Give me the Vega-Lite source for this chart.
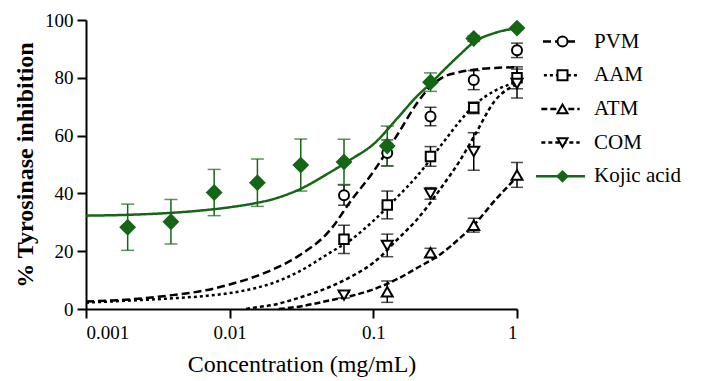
{
  "$schema": "https://vega.github.io/schema/vega-lite/v6.json",
  "width": 431,
  "height": 289,
  "autosize": {"type": "none"},
  "padding": {"left": 86, "top": 20, "right": 191, "bottom": 72},
  "background": "white",
  "config": {
    "view": {"stroke": null},
    "font": "Liberation Serif",
    "axis": {
      "grid": false,
      "domainColor": "black",
      "domainWidth": 2,
      "tickColor": "black",
      "tickWidth": 2,
      "tickSize": 9,
      "labelColor": "black",
      "labelFont": "Liberation Serif",
      "labelFontSize": 19,
      "titleColor": "black",
      "titleFont": "Liberation Serif"
    }
  },
  "datasets": {
    "curves": [
      {"curve": "PVM", "x": 0.001, "y": 2.6}, {"curve": "PVM", "x": 0.002, "y": 3.3}, {"curve": "PVM", "x": 0.004, "y": 4.8},
      {"curve": "PVM", "x": 0.007, "y": 6.6}, {"curve": "PVM", "x": 0.01, "y": 8.5}, {"curve": "PVM", "x": 0.015, "y": 11.2},
      {"curve": "PVM", "x": 0.02, "y": 13.7}, {"curve": "PVM", "x": 0.03, "y": 18.3}, {"curve": "PVM", "x": 0.05, "y": 27.3},
      {"curve": "PVM", "x": 0.07, "y": 37.5}, {"curve": "PVM", "x": 0.1, "y": 47.5}, {"curve": "PVM", "x": 0.15, "y": 61},
      {"curve": "PVM", "x": 0.2, "y": 71}, {"curve": "PVM", "x": 0.25, "y": 77}, {"curve": "PVM", "x": 0.3, "y": 80},
      {"curve": "PVM", "x": 0.4, "y": 82}, {"curve": "PVM", "x": 0.5, "y": 82.8}, {"curve": "PVM", "x": 0.7, "y": 83.4},
      {"curve": "PVM", "x": 1, "y": 83.7},
      {"curve": "AAM", "x": 0.001, "y": 2.2}, {"curve": "AAM", "x": 0.002, "y": 2.9}, {"curve": "AAM", "x": 0.004, "y": 3.7},
      {"curve": "AAM", "x": 0.007, "y": 4.6}, {"curve": "AAM", "x": 0.01, "y": 5.5}, {"curve": "AAM", "x": 0.015, "y": 7.2},
      {"curve": "AAM", "x": 0.02, "y": 9}, {"curve": "AAM", "x": 0.03, "y": 12.8}, {"curve": "AAM", "x": 0.05, "y": 19.5},
      {"curve": "AAM", "x": 0.07, "y": 24}, {"curve": "AAM", "x": 0.1, "y": 30.5}, {"curve": "AAM", "x": 0.15, "y": 39.2},
      {"curve": "AAM", "x": 0.2, "y": 45.8}, {"curve": "AAM", "x": 0.3, "y": 57}, {"curve": "AAM", "x": 0.4, "y": 65},
      {"curve": "AAM", "x": 0.5, "y": 70.3}, {"curve": "AAM", "x": 0.7, "y": 75.5}, {"curve": "AAM", "x": 1, "y": 78.5},
      {"curve": "ATM", "x": 0.022, "y": 0}, {"curve": "ATM", "x": 0.03, "y": 0.8}, {"curve": "ATM", "x": 0.05, "y": 3},
      {"curve": "ATM", "x": 0.07, "y": 4.5}, {"curve": "ATM", "x": 0.1, "y": 6.8}, {"curve": "ATM", "x": 0.15, "y": 10.6},
      {"curve": "ATM", "x": 0.2, "y": 14.1}, {"curve": "ATM", "x": 0.3, "y": 19.3}, {"curve": "ATM", "x": 0.4, "y": 24.5},
      {"curve": "ATM", "x": 0.5, "y": 29}, {"curve": "ATM", "x": 0.7, "y": 37.5}, {"curve": "ATM", "x": 1, "y": 45.7},
      {"curve": "COM", "x": 0.013, "y": 0}, {"curve": "COM", "x": 0.015, "y": 0.5}, {"curve": "COM", "x": 0.02, "y": 1.4},
      {"curve": "COM", "x": 0.03, "y": 3.8}, {"curve": "COM", "x": 0.05, "y": 7.7}, {"curve": "COM", "x": 0.07, "y": 11.2},
      {"curve": "COM", "x": 0.1, "y": 16}, {"curve": "COM", "x": 0.15, "y": 24.5}, {"curve": "COM", "x": 0.2, "y": 30.8},
      {"curve": "COM", "x": 0.3, "y": 42.3}, {"curve": "COM", "x": 0.4, "y": 51.3}, {"curve": "COM", "x": 0.5, "y": 59.5},
      {"curve": "COM", "x": 0.7, "y": 72}, {"curve": "COM", "x": 1, "y": 77.8}
    ],
    "kojicCurve": [
      {"curve": "Kojic acid", "x": 0.001, "y": 32.3}, {"curve": "Kojic acid", "x": 0.002, "y": 32.6}, {"curve": "Kojic acid", "x": 0.004, "y": 33.3},
      {"curve": "Kojic acid", "x": 0.007, "y": 34.3}, {"curve": "Kojic acid", "x": 0.01, "y": 35.2}, {"curve": "Kojic acid", "x": 0.015, "y": 36.6},
      {"curve": "Kojic acid", "x": 0.02, "y": 38}, {"curve": "Kojic acid", "x": 0.03, "y": 41.2}, {"curve": "Kojic acid", "x": 0.05, "y": 47.3},
      {"curve": "Kojic acid", "x": 0.07, "y": 51.8}, {"curve": "Kojic acid", "x": 0.1, "y": 57}, {"curve": "Kojic acid", "x": 0.15, "y": 66.5},
      {"curve": "Kojic acid", "x": 0.2, "y": 73.5}, {"curve": "Kojic acid", "x": 0.25, "y": 78}, {"curve": "Kojic acid", "x": 0.3, "y": 82},
      {"curve": "Kojic acid", "x": 0.4, "y": 88}, {"curve": "Kojic acid", "x": 0.5, "y": 92.3}, {"curve": "Kojic acid", "x": 0.7, "y": 95.5},
      {"curve": "Kojic acid", "x": 1, "y": 97.2}
    ],
    "points": [
      {"series": "PVM", "x": 0.0625, "y": 39.4, "err": 3.5}, {"series": "PVM", "x": 0.125, "y": 54, "err": 4.5},
      {"series": "PVM", "x": 0.25, "y": 66.6, "err": 3.2}, {"series": "PVM", "x": 0.5, "y": 79.2, "err": 3.3},
      {"series": "PVM", "x": 1, "y": 89.5, "err": 2.5},
      {"series": "AAM", "x": 0.0625, "y": 24.1, "err": 4.9}, {"series": "AAM", "x": 0.125, "y": 36, "err": 4.8},
      {"series": "AAM", "x": 0.25, "y": 52.8, "err": 3.4}, {"series": "AAM", "x": 0.5, "y": 69.6, "err": 2},
      {"series": "AAM", "x": 1, "y": 80, "err": 3.8},
      {"series": "ATM", "x": 0.125, "y": 6, "err": 3.7}, {"series": "ATM", "x": 0.25, "y": 19.5, "err": 1.5},
      {"series": "ATM", "x": 0.5, "y": 29, "err": 2.4}, {"series": "ATM", "x": 1, "y": 46.4, "err": 4.3},
      {"series": "COM", "x": 0.0625, "y": 4.8, "err": 1}, {"series": "COM", "x": 0.125, "y": 22, "err": 3.9},
      {"series": "COM", "x": 0.25, "y": 40, "err": 2}, {"series": "COM", "x": 0.5, "y": 54.5, "err": 6.5},
      {"series": "COM", "x": 1, "y": 78, "err": 5},
      {"series": "Kojic acid", "x": 0.00195, "y": 28.3, "err": 8}, {"series": "Kojic acid", "x": 0.0039, "y": 30.2, "err": 7.7},
      {"series": "Kojic acid", "x": 0.0078, "y": 40.3, "err": 8}, {"series": "Kojic acid", "x": 0.0156, "y": 43.7, "err": 8.2},
      {"series": "Kojic acid", "x": 0.03125, "y": 49.8, "err": 9}, {"series": "Kojic acid", "x": 0.0625, "y": 50.9, "err": 7.8},
      {"series": "Kojic acid", "x": 0.125, "y": 56.4, "err": 6.9}, {"series": "Kojic acid", "x": 0.25, "y": 78.5, "err": 3.2},
      {"series": "Kojic acid", "x": 0.5, "y": 93.6, "err": 1}, {"series": "Kojic acid", "x": 1, "y": 97.2, "err": 0.5}
    ]
  },
  "layer": [
    {
      "data": {"name": "curves"},
      "mark": {"type": "line", "strokeWidth": 2.5, "interpolate": "monotone"},
      "encoding": {
        "x": {"field": "x", "type": "quantitative", "title": "Concentration (mg/mL)",
              "scale": {"type": "log", "domain": [0.001, 1]},
              "axis": {"values": [0.001, 0.01, 0.1, 1], "format": "~g", "labelPadding": 5,
                       "titleFontSize": 24, "titleFontWeight": "normal", "titlePadding": 10}},
        "y": {"field": "y", "type": "quantitative", "title": "% Tyrosinase inhibition",
              "scale": {"domain": [0, 100]},
              "axis": {"values": [0, 20, 40, 60, 80, 100], "labelPadding": 4,
                       "titleFontSize": 24, "titleFontWeight": "bold", "titlePadding": 7}},
        "color": {"field": "curve", "type": "nominal",
                  "scale": {"domain": ["PVM", "AAM", "ATM", "COM", "Kojic acid"], "range": ["black", "black", "black", "black", "#156615"]},
                  "legend": {"orient": "right", "offset": 17, "padding": 11, "title": null,
                             "symbolType": "M-3.5,0L3.5,0", "symbolSize": 100, "symbolStrokeWidth": 2.5,
                             "symbolFillColor": "transparent",
                             "labelFont": "Liberation Serif", "labelFontSize": 21, "labelColor": "black",
                             "labelOffset": 23, "rowPadding": 11.7}},
        "strokeDash": {"field": "curve", "type": "nominal",
                       "scale": {"domain": ["PVM", "AAM", "ATM", "COM", "Kojic acid"], "range": [[8, 4], [3, 3], [6, 3], [4, 3], [1, 0]]}}
      }
    },
    {
      "data": {"name": "kojicCurve"},
      "mark": {"type": "line", "strokeWidth": 2.5, "interpolate": "monotone"},
      "encoding": {
        "x": {"field": "x", "type": "quantitative", "title": "Concentration (mg/mL)"},
        "y": {"field": "y", "type": "quantitative", "title": "% Tyrosinase inhibition"},
        "color": {"field": "curve", "type": "nominal"},
        "strokeDash": {"field": "curve", "type": "nominal"}
      }
    },
    {
      "data": {"name": "points"},
      "transform": [{"filter": "datum.series !== 'Kojic acid'"}],
      "mark": {"type": "errorbar", "ticks": {"size": 12}, "thickness": 1.5, "color": "black"},
      "encoding": {
        "x": {"field": "x", "type": "quantitative", "title": "Concentration (mg/mL)"},
        "y": {"field": "y", "type": "quantitative", "title": "% Tyrosinase inhibition"},
        "yError": {"field": "err"}
      }
    },
    {
      "data": {"name": "points"},
      "transform": [{"filter": "datum.series === 'Kojic acid'"}],
      "mark": {"type": "errorbar", "ticks": {"size": 13}, "thickness": 1.5, "color": "#156615"},
      "encoding": {
        "x": {"field": "x", "type": "quantitative", "title": "Concentration (mg/mL)"},
        "y": {"field": "y", "type": "quantitative", "title": "% Tyrosinase inhibition"},
        "yError": {"field": "err"}
      }
    },
    {
      "data": {"name": "points"},
      "mark": {"type": "point", "strokeWidth": 2, "opacity": 1, "fillOpacity": 1, "strokeOpacity": 1},
      "encoding": {
        "x": {"field": "x", "type": "quantitative", "title": "Concentration (mg/mL)"},
        "y": {"field": "y", "type": "quantitative", "title": "% Tyrosinase inhibition"},
        "shape": {"field": "series", "type": "nominal",
                  "scale": {"domain": ["PVM", "AAM", "ATM", "COM", "Kojic acid"], "range": ["circle", "square", "triangle-up", "triangle-down", "diamond"]},
                  "legend": {"orient": "none", "legendX": 466, "legendY": 11, "title": null, "padding": 0,
                             "symbolStrokeWidth": 2,
                             "labelFont": "Liberation Serif", "labelFontSize": 21, "labelExpr": "''",
                             "labelOffset": 15, "rowPadding": 11.7}},
        "fill": {"field": "series", "type": "nominal",
                 "scale": {"domain": ["PVM", "AAM", "ATM", "COM", "Kojic acid"], "range": ["white", "white", "white", "white", "#156615"]}},
        "stroke": {"field": "series", "type": "nominal",
                   "scale": {"domain": ["PVM", "AAM", "ATM", "COM", "Kojic acid"], "range": ["black", "black", "black", "black", "#156615"]}},
        "size": {"field": "series", "type": "nominal",
                 "scale": {"type": "ordinal", "domain": ["PVM", "AAM", "ATM", "COM", "Kojic acid"], "range": [100, 90, 120, 120, 196]}}
      }
    }
  ]
}
